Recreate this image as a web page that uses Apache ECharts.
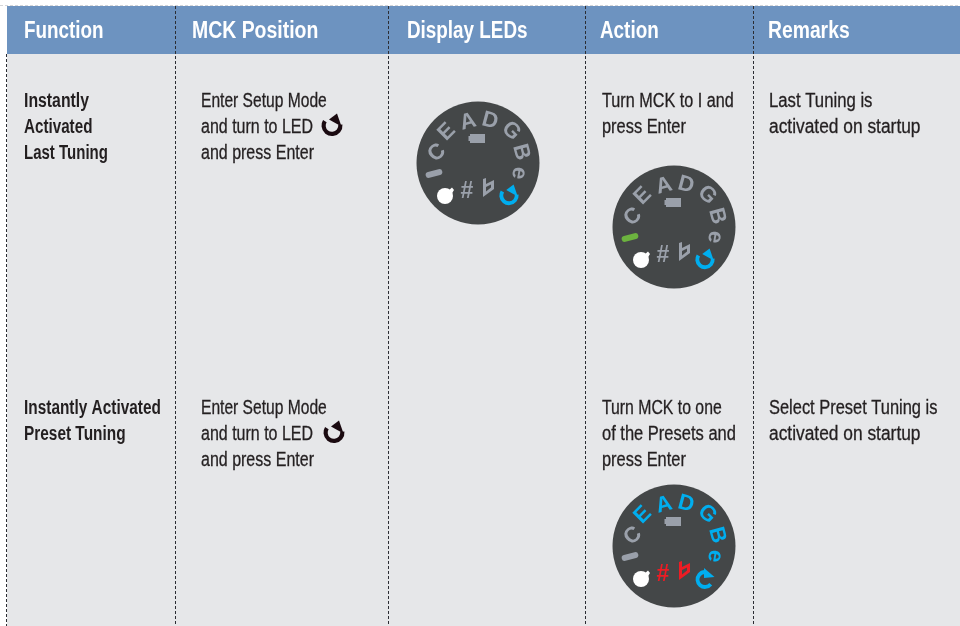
<!DOCTYPE html>
<html><head><meta charset="utf-8">
<style>html,body{margin:0;padding:0;background:#fff}#c{width:960px;height:626px}</style>
<script src="https://cdn.jsdelivr.net/npm/echarts@6/dist/echarts.min.js"></script>
</head><body><div id="c"></div>
<script>
var headers = ['Function','MCK Position','Display LEDs','Action','Remarks'];
var row1Function = ['Instantly','Activated','Last Tuning'];
var row1Position = ['Enter Setup Mode','and turn to LED','and press Enter'];
var row1Action = ['Turn MCK to I and','press Enter'];
var row1Remarks = ['Last Tuning is','activated on startup'];
var row2Function = ['Instantly Activated','Preset Tuning'];
var row2Position = ['Enter Setup Mode','and turn to LED','and press Enter'];
var row2Action = ['Turn MCK to one','of the Presets and','press Enter'];
var row2Remarks = ['Select Preset Tuning is','activated on startup'];
var dialLetters = ['C','E','A','D','G','B','e'];

var GRAY='#9aa0aa', BLUE='#00aeef', RED='#ed1c24', GREEN='#6cb33f';
var FONT='"Liberation Sans",sans-serif';
// horizontal squeeze per line: the source face is a condensed sans
var fit={'Instantly':0.79,'Activated':0.76,'Last Tuning':0.75,'Instantly Activated':0.77,'Preset Tuning':0.77,
 'Enter Setup Mode':0.78,'and turn to LED':0.8,'and press Enter':0.8,'Turn MCK to I and':0.81,'press Enter':0.82,
 'Last Tuning is':0.836,'activated on startup':0.868,'Turn MCK to one':0.79,'of the Presets and':0.825,'Select Preset Tuning is':0.822,
 'Function':0.82,'MCK Position':0.845,'Display LEDs':0.82,'Action':0.82,'Remarks':0.84};
var els=[];
els.push({type:'rect',shape:{x:7,y:6,width:953,height:620},style:{fill:'#e6e7e9'},z:0});
els.push({type:'line',shape:{x1:0,y1:5.5,x2:960,y2:5.5},style:{stroke:'#d4d5d8',lineWidth:1,lineDash:[3,2]},z:0});
els.push({type:'rect',shape:{x:7,y:6,width:953,height:48},style:{fill:'#6d93c0'},z:1});
[6.5,175.5,388.5,585.5,753.5].forEach(function(x,i){
  els.push({type:'line',shape:{x1:x,y1:i?6:54,x2:x,y2:626},style:{stroke:'#2b2d33',lineWidth:1,lineDash:[3,2]},z:2});
});
var headX=[24,192,407,600,768];
headers.forEach(function(h,i){
  els.push({type:'text',x:headX[i],y:32,scaleX:fit[h],z:3,style:{text:h,fill:'#fff',font:'bold 23px '+FONT,align:'left',verticalAlign:'middle'}});
});
function block(lines,x,y,bold){
  lines.forEach(function(t,i){
    els.push({type:'text',x:x,y:y+i*26,scaleX:fit[t],z:3,style:{text:t,fill:'#231f20',font:(bold?'bold ':'')+'20px '+FONT,align:'left',verticalAlign:'middle',stroke:bold?null:'#231f20',lineWidth:bold?0:0.3}});
  });
}
block(row1Function,24,101,true);block(row1Position,201,101);block(row1Action,602,101);block(row1Remarks,769,101);
block(row2Function,24,408.5,true);block(row2Position,201,408);block(row2Action,602,408);block(row2Remarks,769,408);

function refresh(cx,cy,color,s,mirror){
  if(!mirror){
    els.push({type:'arc',z:5,shape:{cx:cx,cy:cy,r:8.4*s,startAngle:-0.1,endAngle:Math.PI+0.55,clockwise:true},style:{fill:null,stroke:color,lineWidth:4.2*s,lineCap:'butt'}});
    els.push({type:'polygon',z:5,shape:{points:[[cx+5*s,cy-12*s],[cx+9.5*s,cy+1*s],[cx-3*s,cy-6*s]]},style:{fill:color}});
  } else {
    els.push({type:'arc',z:5,shape:{cx:cx,cy:cy+1,r:7.5,startAngle:0.7,endAngle:Math.PI*1.5,clockwise:true},style:{fill:null,stroke:color,lineWidth:3.8,lineCap:'butt'}});
    els.push({type:'polygon',z:5,shape:{points:[[cx-1,cy-10.5],[cx+9.5,cy-1.5],[cx-1,cy-0.5]]},style:{fill:color}});
  }
}
function dial(cx,cy,cfg){
  els.push({type:'circle',z:4,shape:{cx:cx,cy:cy,r:61.5},style:{fill:'#444748'}});
  var pos=[[-41,-10,40],[-31,-31,45],[-10,-41,15],[12,-42,-15],[33,-32,-45],[43,-11,-75],[41,10,-100]];
  dialLetters.forEach(function(l,i){
    var p=pos[i];
    var col=(i===0)?GRAY:cfg.letters;
    els.push({type:'text',z:5,x:cx+p[0],y:cy+p[1],rotation:p[2]*Math.PI/180,style:{text:l,fill:col,font:'bold 22px '+FONT,align:'center',verticalAlign:'middle'}});
  });
  els.push({type:'rect',z:5,x:cx-44,y:cy+10.5,rotation:15*Math.PI/180,shape:{x:-8.5,y:-3,width:17,height:6,r:3},style:{fill:cfg.bar}});
  els.push({type:'rect',z:5,shape:{x:cx-8,y:cy-29,width:15,height:9},style:{fill:GRAY}});
  els.push({type:'rect',z:5,shape:{x:cx-9.5,y:cy-27,width:2,height:5},style:{fill:GRAY}});
  els.push({type:'circle',z:5,shape:{cx:cx-33,cy:cy+33,r:8},style:{fill:'#fff'}});
  els.push({type:'polygon',z:5,shape:{points:[[cx-30,cy+28],[cx-26,cy+24.5],[cx-24,cy+27],[cx-27,cy+32]]},style:{fill:'#fff'}});
  els.push({type:'text',z:5,x:cx-11,y:cy+28.5,style:{text:'#',fill:cfg.notes,font:'bold 23px '+FONT,align:'center',verticalAlign:'middle'}});
  els.push({type:'polygon',z:5,shape:{points:[[cx+5,cy+16],[cx+8,cy+15],[cx+8,cy+21],[cx+16,cy+17],[cx+16,cy+26],[cx+5,cy+34]]},style:{fill:cfg.notes}});
  els.push({type:'polygon',z:6,shape:{points:[[cx+8,cy+24],[cx+13,cy+21.5],[cx+13,cy+24.5],[cx+8,cy+28.5]]},style:{fill:'#444748'}});
  refresh(cx+31,cy+32.5,BLUE,0.92,cfg.mirror);
}
dial(478,163,{letters:GRAY,bar:GRAY,notes:GRAY});
dial(674,227,{letters:GRAY,bar:GREEN,notes:GRAY});
dial(674,546,{letters:BLUE,bar:GRAY,notes:RED,mirror:true});
refresh(332,125.5,'#1a0a10',1);
refresh(334,432.5,'#1a0a10',1);

var chart=echarts.init(document.getElementById('c'),null,{renderer:'canvas'});
chart.setOption({animation:false,graphic:{elements:els}});
</script></body></html>
